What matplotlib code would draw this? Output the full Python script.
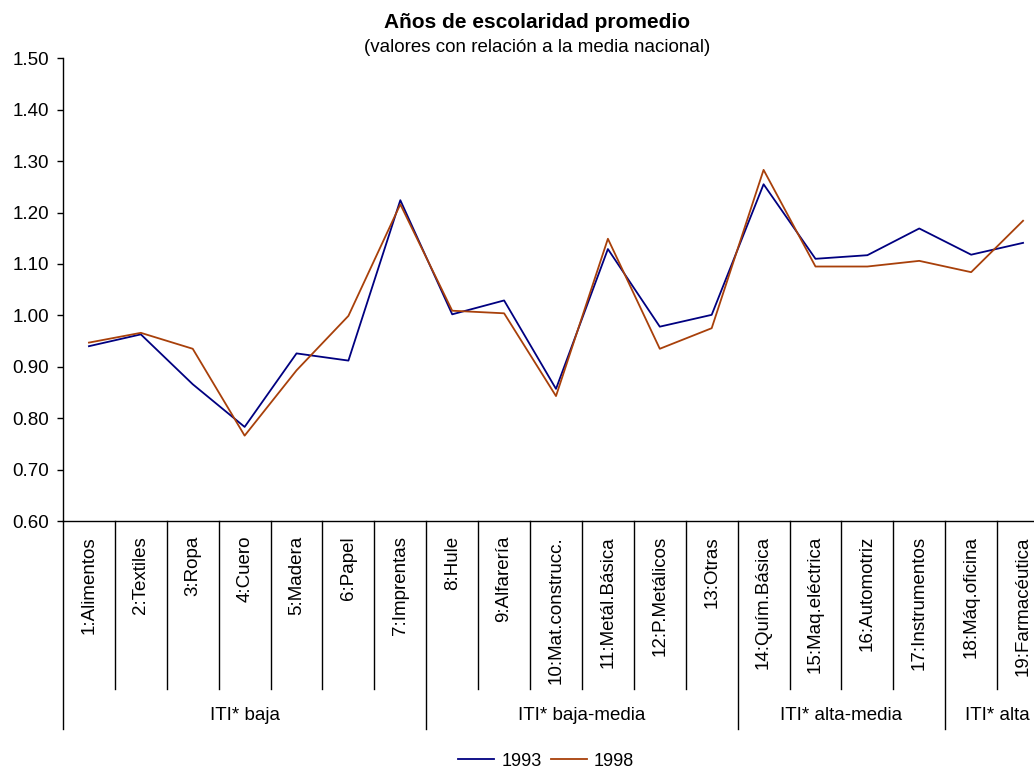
import numpy as np
import matplotlib
matplotlib.use("Agg")
import matplotlib.pyplot as plt
from matplotlib.lines import Line2D

plt.rcParams['font.family'] = ['Liberation Sans', 'DejaVu Sans']

categorias = ['1:Alimentos', '2:Textiles', '3:Ropa', '4:Cuero', '5:Madera', '6:Papel',
              '7:Imprentas', '8:Hule', '9:Alfarería', '10:Mat.construcc.',
              '11:Metál.Básica', '12:P.Metálicos', '13:Otras', '14:Quím.Básica',
              '15:Maq.eléctrica', '16:Automotriz', '17:Instrumentos',
              '18:Máq.oficina', '19:Farmacéutica']
grupos = ['ITI* baja', 'ITI* baja-media', 'ITI* alta-media', 'ITI* alta']
grupos_n = [7, 6, 4, 2]
v1993 = [0.940, 0.963, 0.866, 0.783, 0.926, 0.912, 1.224, 1.002, 1.029, 0.857,
         1.129, 0.978, 1.001, 1.255, 1.110, 1.117, 1.169, 1.118, 1.141]
v1998 = [0.947, 0.966, 0.935, 0.766, 0.893, 0.999, 1.216, 1.009, 1.004, 0.843,
         1.149, 0.935, 0.975, 1.283, 1.095, 1.095, 1.106, 1.084, 1.184]

c93 = '#000080'
c98 = '#A8400A'

fig = plt.figure(figsize=(10.34, 7.69), dpi=100)
# plot area runs a bit past the right edge, as in the original
ax = fig.add_axes([63 / 1034, 1 - 521 / 769, (1049 - 63) / 1034, (521 - 58.3) / 769])

x = np.arange(len(categorias)) + 0.5
ax.plot(x, v1993, color=c93, lw=1.3, clip_on=False)
ax.plot(x, v1998, color=c98, lw=1.3, clip_on=False)

ax.set_xlim(0, len(categorias))
ax.set_ylim(0.6, 1.5)
ax.set_yticks(np.arange(0.6, 1.501, 0.1))
ax.yaxis.set_major_formatter(matplotlib.ticker.FormatStrFormatter('%.2f'))
ax.tick_params(axis='y', length=4, width=1, labelsize=13.5, pad=6)
ax.set_xticks([])
for s in ['top', 'right']:
    ax.spines[s].set_visible(False)
ax.spines['left'].set_linewidth(1)
ax.spines['bottom'].set_linewidth(1)

tr = ax.get_xaxis_transform()
h_ax = 521 - 58.3
y_cat = -(689 - 521) / h_ax
y_grp = -(729 - 521) / h_ax

# category labels and separators
for i, lab in enumerate(categorias):
    ax.text(i + 0.5, -15 / h_ax, lab, transform=tr, rotation=90, ha='center',
            va='top', fontsize=13.5)
bounds = np.cumsum([0] + grupos_n)
for i in range(0, len(categorias)):
    y_end = y_grp if i in bounds else y_cat
    ax.plot([i, i], [0, y_end], transform=tr, color='black', lw=1, clip_on=False)

# group labels
for g, a, b in zip(grupos, bounds[:-1], bounds[1:]):
    ax.text((a + b) / 2, -(715 - 521) / h_ax, g, transform=tr, ha='center',
            va='center', fontsize=13.5)

fig.text(537 / 1034, 1 - 23 / 769, 'Años de escolaridad promedio', ha='center',
         va='center', fontsize=15, fontweight='bold')
fig.text(537 / 1034, 1 - 47 / 769, '(valores con relación a la media nacional)',
         ha='center', va='center', fontsize=13.5)

handles = [Line2D([], [], color=c93, lw=1.3), Line2D([], [], color=c98, lw=1.3)]
fig.legend(handles, ['1993', '1998'], loc='center', ncol=2, frameon=False,
           bbox_to_anchor=(546 / 1034, 1 - 761 / 769), fontsize=13,
           handlelength=2.0, handletextpad=0.4, columnspacing=0.5,
           borderpad=0, borderaxespad=0)

fig.savefig('out.png', dpi=100)
